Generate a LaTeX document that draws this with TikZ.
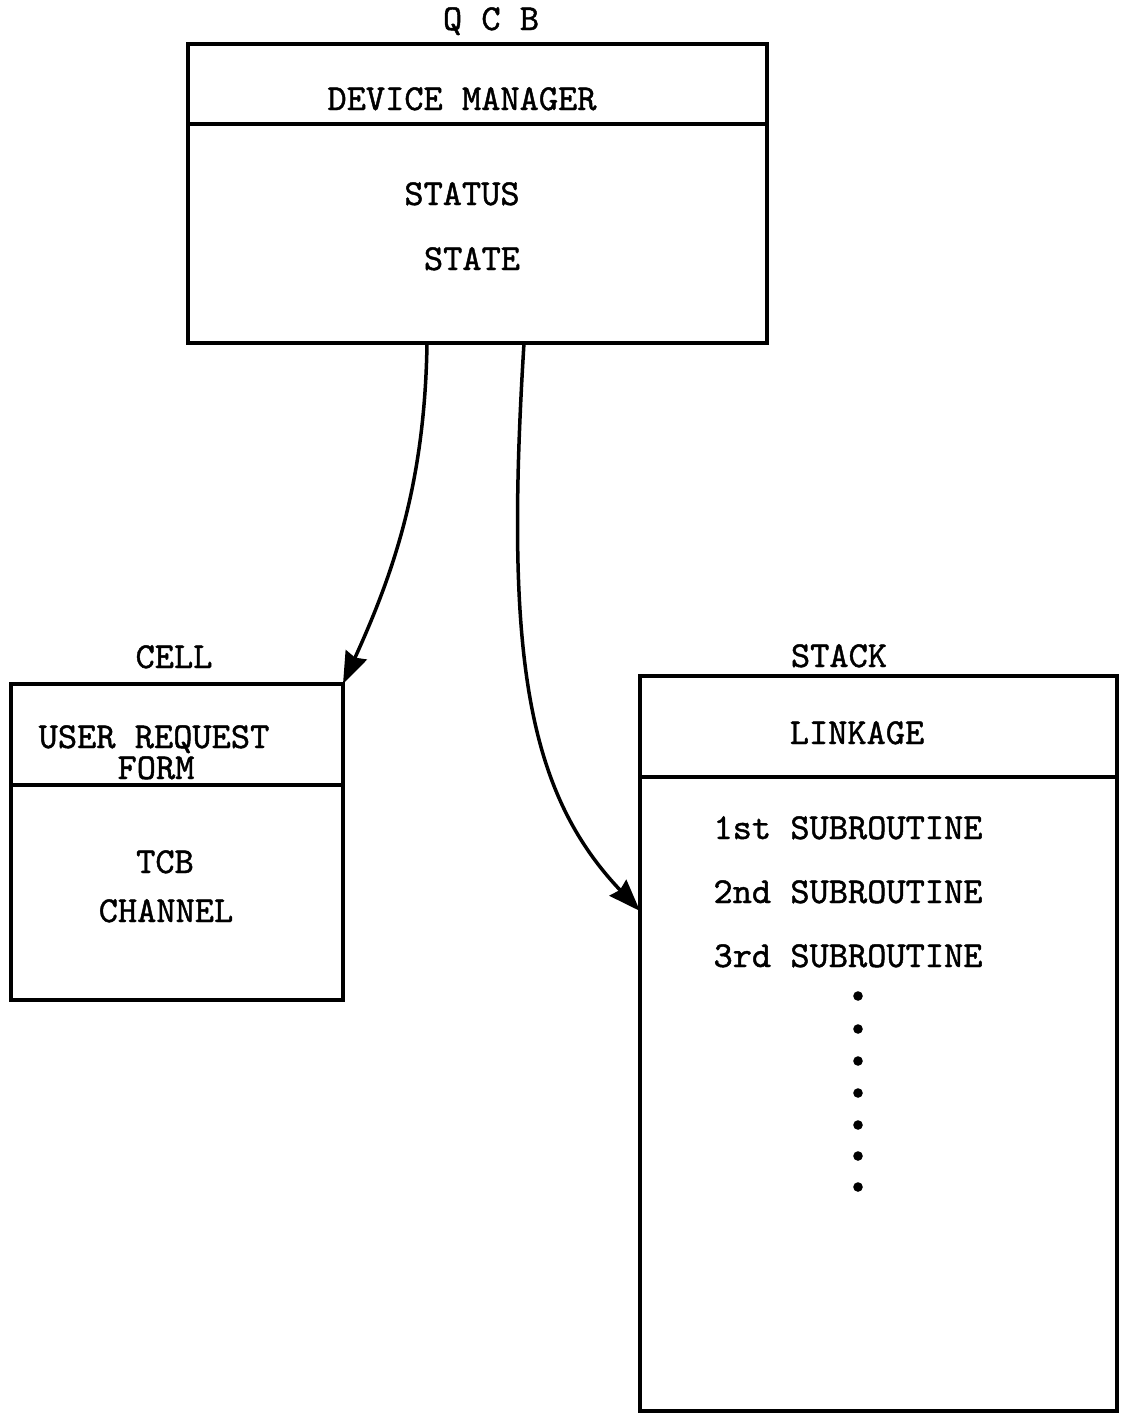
\documentclass[tikz,border=0pt]{standalone}
\usepackage{fontspec}
\newfontfamily\typew{lmmono10-regular.otf}[FakeBold=1.2]
\usetikzlibrary{arrows.meta,calc}
\begin{document}
\begin{tikzpicture}[x=0.5pt,y=-0.5pt,
  box/.style={draw, line width=1.75pt, rectangle, inner sep=0pt, outer sep=0pt},
  lbl/.style={anchor=base, inner sep=0pt, font=\typew\fontsize{18.3}{22}\selectfont},
  rule/.style={line width=1.75pt},
  arrowlink/.style={line width=1.75pt, -{Stealth[length=16pt,width=11.5pt,inset=1.5pt]}},
  dotmark/.style={circle, fill, inner sep=0pt, minimum size=4.8pt}
]
\useasboundingbox (0,0) rectangle (1124,1414);

% queue control block
\node[box, minimum width=289.5pt, minimum height=149.5pt] (qcb) at (477.5,193.5) {};
\draw[rule] ($(qcb.north west)+(0,80)$) -- ($(qcb.north east)+(0,80)$);
\node[lbl] (qcbname) at (491,30) {Q C B};
\node[lbl] (devmgr) at (462,110) {DEVICE MANAGER};
\node[lbl] (status) at (462,205) {STATUS};
\node[lbl] (state) at (472,270) {STATE};

% cell
\node[box, minimum width=166pt, minimum height=158pt] (cell) at (177,842) {};
\draw[rule] ($(cell.north west)+(0,101)$) -- ($(cell.north east)+(0,101)$);
\node[lbl] (cellname) at (174,668) {CELL};
\node[lbl] (urf1) at (154,748) {USER REQUEST};
\node[lbl] (urf2) at (156,779) {FORM};
\node[lbl] (tcb) at (165,873) {TCB};
\node[lbl] (chan) at (166,922) {CHANNEL};

% stack
\node[box, minimum width=238.5pt, minimum height=367.5pt] (stack) at (878.5,1043.5) {};
\draw[rule] ($(stack.north west)+(0,101)$) -- ($(stack.north east)+(0,101)$);
\node[lbl] (stackname) at (839,667) {STACK};
\node[lbl] (linkage) at (857,744) {LINKAGE};
\node[lbl] (sub1) at (848,839) {1st SUBROUTINE};
\node[lbl] (sub2) at (848,903) {2nd SUBROUTINE};
\node[lbl] (sub3) at (848,967) {3rd SUBROUTINE};
\foreach \y [count=\i] in {996,1029,1061,1093,1125,1156,1187}
  \node[dotmark] (more\i) at (858,\y) {};

% pointers from the control block
\coordinate (qcbout1) at (427,343);
\coordinate (qcbout2) at (524,343);
\coordinate (stackin) at (640,911);
\draw[arrowlink] (qcbout1) .. controls (425,480) and (395,570) .. (cell.north east);
\draw[arrowlink] (qcbout2) .. controls (505,650) and (525,790) .. (stackin);
\end{tikzpicture}
\end{document}
